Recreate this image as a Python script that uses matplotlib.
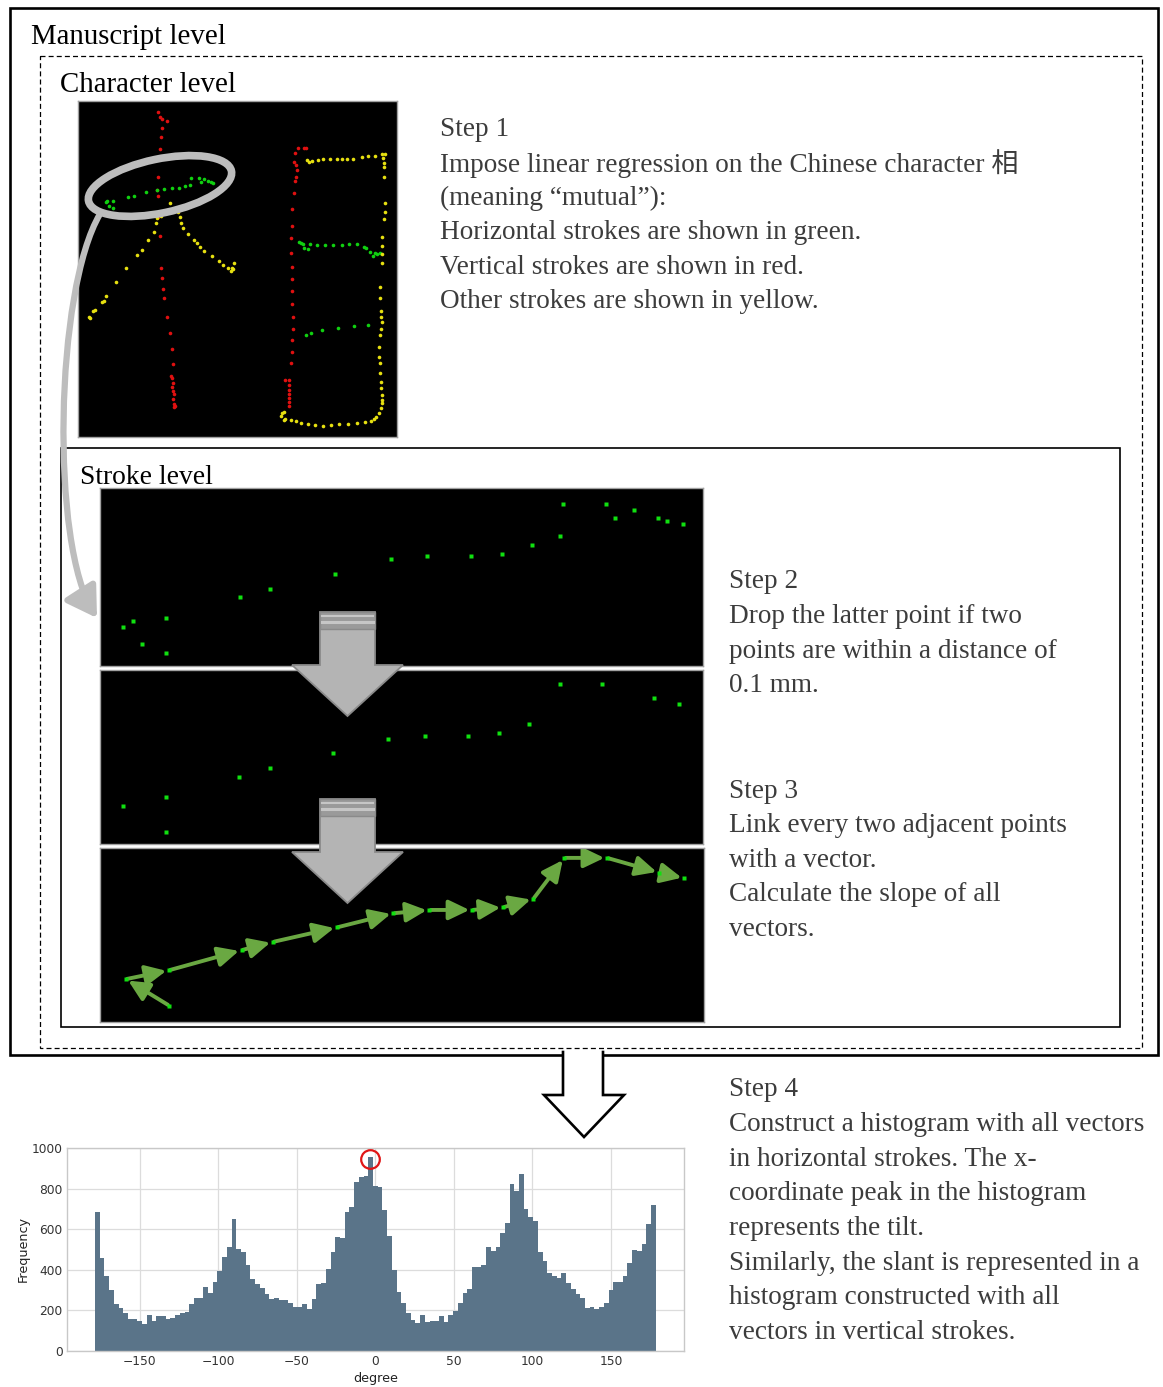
import numpy as np
import matplotlib.pyplot as plt
from matplotlib.patches import Rectangle, Polygon, Ellipse, FancyArrowPatch
from matplotlib.path import Path

W, H = 1163, 1387

# ---- histogram of vector angles (3 degree bins, -178.5 .. 178.5)
bin_start = -178.5
bin_width = 3
counts = [687, 456, 369, 300, 231, 209, 188, 156, 156, 148,
          132, 175, 148, 173, 173, 155, 160, 175, 185, 193,
          231, 262, 262, 313, 285, 338, 395, 465, 514, 649,
          504, 488, 423, 353, 330, 310, 280, 255, 262, 252,
          250, 237, 216, 216, 229, 206, 255, 330, 336, 405,
          486, 560, 558, 687, 712, 832, 860, 865, 955, 814,
          810, 695, 567, 399, 292, 237, 185, 152, 138, 176,
          143, 148, 148, 173, 143, 176, 198, 234, 287, 303,
          412, 412, 423, 514, 494, 511, 580, 629, 824, 791,
          872, 702, 662, 642, 489, 445, 382, 371, 357, 386,
          333, 306, 280, 262, 209, 217, 204, 214, 237, 300,
          338, 338, 369, 435, 498, 494, 527, 626, 722]
peak_deg, peak_count = -3.2, 947
x_ticks = [-150, -100, -50, 0, 50, 100, 150]
y_ticks = [0, 200, 400, 600, 800, 1000]

# ---- character 相, point coordinates (panel pixels x3)
red_pts = [(250, 37), (256, 50), (262, 57), (275, 62), (262, 85), (258, 110), (256, 146),
           (250, 230), (247, 270), (248, 288), (250, 350), (255, 407), (257, 505), (262, 535),
           (264, 566), (268, 595), (277, 650), (284, 700), (290, 748), (293, 792), (287, 828),
           (292, 835), (293, 850), (292, 862), (294, 872), (296, 882), (295, 897), (298, 912),
           (300, 918), (297, 922),
           (670, 145), (688, 145), (693, 145), (659, 160), (656, 185), (662, 195), (666, 210),
           (662, 230), (661, 242), (657, 280), (651, 327), (650, 377), (647, 415), (648, 460),
           (652, 502), (652, 538), (651, 573), (652, 612), (654, 650), (654, 688), (652, 720),
           (650, 755), (647, 790), (643, 840), (630, 840), (641, 855), (641, 870), (643, 882),
           (643, 893), (643, 905), (642, 918)]
green_pts = [(92, 307), (97, 303), (115, 302), (102, 318), (115, 325), (158, 292), (177, 287),
             (214, 277), (245, 269), (268, 266), (292, 264), (312, 263), (330, 259), (345, 255),
             (347, 235), (373, 235), (388, 238), (378, 245), (400, 243), (408, 246), (415, 248),
             (673, 427), (678, 430), (683, 433), (686, 445), (700, 448), (706, 432), (727, 434),
             (750, 435), (775, 435), (800, 434), (823, 431), (847, 431), (868, 440), (872, 443),
             (885, 457), (895, 467), (900, 460), (905, 462), (915, 458),
             (693, 705), (708, 700), (742, 690), (790, 683), (838, 677), (880, 674)]
yellow_pts = [(285, 310), (258, 347), (246, 354), (243, 370), (236, 395), (220, 420), (200, 450),
              (185, 465), (154, 504), (124, 547), (93, 587), (88, 604), (80, 605), (60, 630),
              (55, 633), (43, 650), (44, 655),
              (310, 337), (314, 352), (318, 368), (325, 383), (340, 403), (358, 420), (367, 430),
              (375, 440), (388, 452), (410, 467), (431, 483), (445, 495), (458, 505), (467, 512),
              (470, 505), (478, 490), (475, 508),
              (695, 180), (703, 185), (712, 183), (730, 181), (745, 178), (765, 178), (785, 178),
              (800, 176), (815, 177), (835, 176), (860, 172), (880, 169), (900, 168), (920, 162),
              (930, 162), (925, 175), (928, 190), (926, 200), (928, 232),
              (930, 310), (930, 337), (928, 358), (922, 410), (922, 437), (920, 462), (920, 490),
              (915, 560), (916, 593), (918, 632), (918, 650), (920, 667), (918, 687), (916, 705),
              (913, 740), (913, 770), (915, 790), (916, 818), (918, 845), (918, 865), (920, 885),
              (922, 900), (922, 910), (918, 925), (913, 940), (904, 950), (898, 957), (888, 962),
              (870, 965), (845, 968), (820, 972), (793, 973), (768, 975), (743, 978), (720, 976),
              (700, 972), (677, 968), (662, 963), (647, 960), (630, 958), (627, 960), (617, 948),
              (622, 940), (628, 935)]

# ---- one horizontal stroke: raw points, after dropping, linked by vectors
raw_pts = [(70, 425), (95, 407), (180, 398), (118, 477), (180, 505), (368, 336), (446, 311),
           (610, 267), (752, 222), (846, 213), (956, 213), (1035, 205), (1113, 179), (1183, 152),
           (1191, 56), (1300, 56), (1325, 99), (1371, 74), (1434, 99), (1457, 108), (1497, 117)]
kept_pts = [(70, 962), (180, 936), (180, 1040), (366, 875), (444, 849), (606, 805), (746, 762),
            (840, 754), (949, 754), (1028, 745), (1104, 718), (1183, 597), (1291, 597),
            (1424, 640), (1486, 658)]
chain_pts = [(188, 650), (78, 570), (188, 543), (373, 482), (453, 457), (616, 413), (760, 370),
             (852, 360), (961, 360), (1040, 352), (1117, 326), (1196, 202), (1305, 202),
             (1438, 247), (1502, 264)]

step1 = ["Step 1",
         "Impose linear regression on the Chinese character 相",
         "(meaning \u201cmutual\u201d):",
         "Horizontal strokes are shown in green.",
         "Vertical strokes are shown in red.",
         "Other strokes are shown in yellow."]
step2 = ["Step 2", "Drop the latter point if two", "points are within a distance of", "0.1 mm."]
step3 = ["Step 3", "Link every two adjacent points", "with a vector.",
         "Calculate the slope of all", "vectors."]
step4 = ["Step 4", "Construct a histogram with all vectors", "in horizontal strokes. The x-",
         "coordinate peak in the histogram", "represents the tilt.",
         "Similarly, the slant is represented in a", "histogram constructed with all",
         "vectors in vertical strokes."]

SERIF = ['Liberation Serif', 'Noto Sans CJK SC', 'DejaVu Serif']
TXT = '#3c3c3c'


def px_axes(fig, x0, y0, x1, y1):
    return fig.add_axes([x0 / W, 1 - y1 / H, (x1 - x0) / W, (y1 - y0) / H])


def black_panel(fig, box, xlim, ylim):
    a = px_axes(fig, *box)
    a.set_facecolor('black')
    a.set_xlim(*xlim)
    a.set_ylim(*ylim)
    a.set_xticks([])
    a.set_yticks([])
    for s in a.spines.values():
        s.set_color('#a0a0a0')
        s.set_linewidth(1.0)
    return a


def scatter(a, pts, color, marker='o', ms=2.6):
    xs, ys = zip(*pts)
    a.plot(xs, ys, ls='none', marker=marker, ms=ms, color=color, mec='none')


fig = plt.figure(figsize=(W / 100, H / 100), dpi=100)

# character panel
ch = black_panel(fig, (78, 101, 397, 437), (9, 966), (1011, 3))
scatter(ch, red_pts, '#e01010')
scatter(ch, green_pts, '#10d010')
scatter(ch, yellow_pts, '#e6e010')

# stroke panels
pa = black_panel(fig, (100, 488, 703, 666), (12, 1548), (543, 8))
scatter(pa, raw_pts, '#10e010', 's', 2.8)
pb = black_panel(fig, (100, 670, 703, 844), (12, 1548), (1077, 555))
scatter(pb, kept_pts, '#10e010', 's', 2.8)
pc = black_panel(fig, (100, 848, 704, 1022), (12, 1552), (700, 172))
for p0, p1 in zip(chain_pts[:-1], chain_pts[1:]):
    pc.add_patch(FancyArrowPatch(p0, p1, arrowstyle='-|>,head_length=1.25,head_width=0.6',
                                 mutation_scale=10, lw=2.8, color='#6aa842',
                                 shrinkA=1, shrinkB=2))
scatter(pc, chain_pts, '#10e010', 's', 2.8)

# histogram
hx = fig.add_axes([66.7 / W, 1 - 1350.7 / H, (684 - 66.7) / W, (1350.7 - 1148.3) / H])
edges = bin_start + bin_width * np.arange(len(counts))
hx.bar(edges, counts, width=bin_width, align='edge', color='#5a7489', edgecolor='none', zorder=2)
hx.set_xlim(-196.5, 196.5)
hx.set_ylim(0, 1000)
hx.set_xticks(x_ticks)
hx.set_yticks(y_ticks)
hx.grid(True, color='#dcdcdc', lw=0.9, zorder=0)
hx.tick_params(length=0, labelsize=8.8, labelcolor='#333333', pad=3)
for s in hx.spines.values():
    s.set_color('#c8c8c8')
    s.set_linewidth(1.0)
hx.set_xlabel('degree', fontsize=9.2, color='#222222', labelpad=3)
hx.set_ylabel('Frequency', fontsize=9.2, color='#222222', labelpad=1)
hx.plot([peak_deg], [peak_count], marker='o', ms=13.4, mfc='none', mec='#e01515', mew=1.6,
        zorder=5, clip_on=False)

# overlay in pixel coordinates
ov = fig.add_axes([0, 0, 1, 1])
ov.set_xlim(0, W)
ov.set_ylim(H, 0)
ov.axis('off')
ov.patch.set_alpha(0)
ov.set_zorder(10)

ov.add_patch(Rectangle((10, 8), 1148, 1047, fill=False, ec='black', lw=1.9))
ov.add_patch(Rectangle((40, 56), 1102, 992, fill=False, ec='black', lw=0.9,
                       ls=(0, (4, 2.5))))
ov.add_patch(Rectangle((61, 448), 1059, 579, fill=False, ec='black', lw=1.2))

ov.text(31, 37, "Manuscript level", fontsize=20.8, family=SERIF, va='center', ha='left')
ov.text(60, 85, "Character level", fontsize=20.8, family=SERIF, va='center', ha='left')
ov.text(80, 477, "Stroke level", fontsize=19.8, family=SERIF, va='center', ha='left')


def block(lines, x, y0, dy=34.6):
    for i, s in enumerate(lines):
        ov.text(x, y0 + 1 + i * dy, s, fontsize=19.6, family=SERIF, color=TXT,
                va='center', ha='left')


block(step1, 440, 128)
block(step2, 729, 581)
block(step3, 729, 790)
block(step4, 729, 1089)

# ellipse around the first horizontal stroke and the curved pointer
ov.add_patch(Ellipse((160, 186), 146, 54, angle=-11.9, fill=False, ec='#bdbdbd', lw=5.5))
curve = Path([(100, 214), (55, 290), (50, 545), (97, 618)],
             [Path.MOVETO, Path.CURVE4, Path.CURVE4, Path.CURVE4])
ov.add_patch(FancyArrowPatch(path=curve, arrowstyle='-|>,head_length=0.9,head_width=0.55',
                             mutation_scale=20, lw=4.5, color='#bdbdbd'))


def gray_arrow(top, base, tip):
    shape = [(320, top), (375, top), (375, base), (403, base), (347.5, tip),
             (292, base), (320, base)]
    ov.add_patch(Polygon(shape, closed=True, fc='#b4b4b4', ec='#8a8a8a', lw=1.3))
    ov.add_patch(Rectangle((320, top), 55, 17, fc='#9a9a9a', ec='#8a8a8a', lw=1.0))
    ov.plot([322, 373], [top + 3.5, top + 3.5], color='#c6c6c6', lw=1.5)
    ov.plot([322, 373], [top + 10, top + 10], color='#c6c6c6', lw=2.2)


gray_arrow(612, 665, 716)
gray_arrow(799, 852, 903)

# outline arrow out of the manuscript box
out = [(563, 1052), (563, 1095), (544, 1095), (584, 1137), (624, 1095), (603, 1095), (603, 1052)]
ov.add_patch(Polygon(out, closed=True, fc='white', ec='none'))
ox, oy = zip(*out)
ov.plot(ox, oy, color='black', lw=1.9, solid_joinstyle='miter')

fig.savefig('out.png', dpi=100)
